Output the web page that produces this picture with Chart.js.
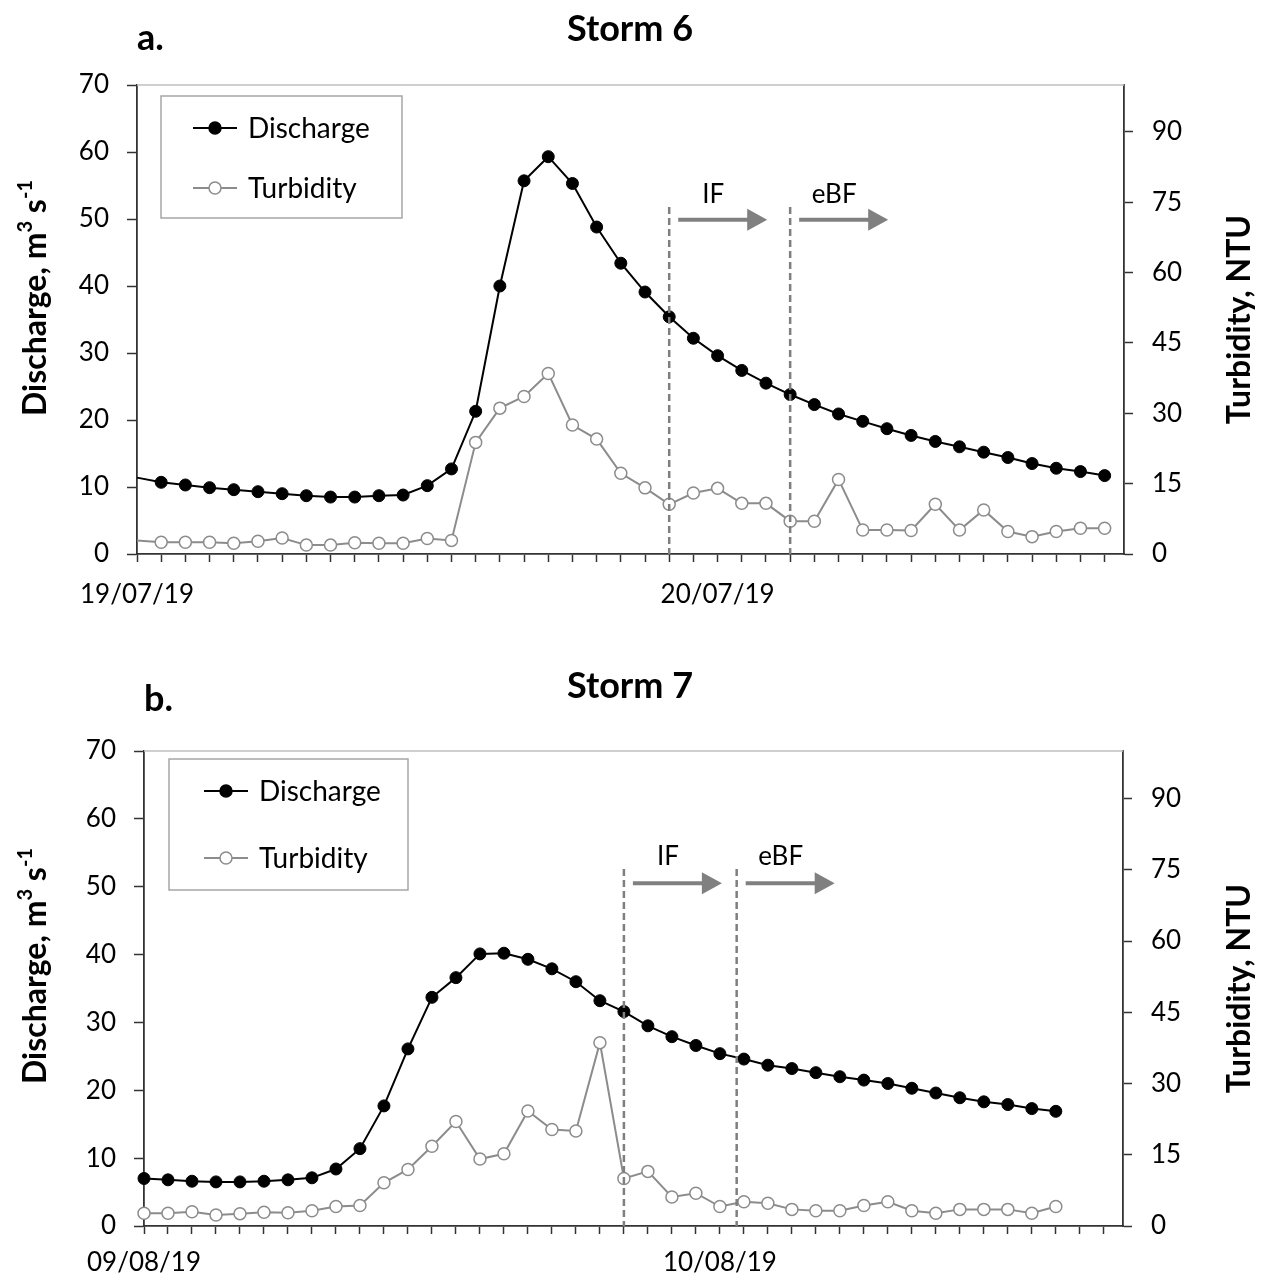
<!DOCTYPE html>
<html>
<head>
<meta charset="utf-8">
<script src="https://cdn.jsdelivr.net/npm/chart.js@4.4.1/dist/chart.umd.min.js"></script>
<style>
    body { margin: 0; background: #fff; }
    canvas { display: block; }
</style>
</head>
<body>
<canvas id="stormSixChart" width="1262" height="639"></canvas>
<canvas id="stormSevenChart" width="1262" height="639"></canvas>
<script>
// Storm 6 - hourly readings from 19/07/19 00:00
const stormSixHours = [0, 1, 2, 3, 4, 5, 6, 7, 8, 9, 10, 11, 12, 13, 14, 15, 16, 17, 18, 19, 20,
    21, 22, 23, 24, 25, 26, 27, 28, 29, 30, 31, 32, 33, 34, 35, 36, 37, 38, 39, 40];
const stormSixDischarge = [11.4, 10.7, 10.3, 9.9, 9.6, 9.3, 9.0, 8.7, 8.5, 8.5, 8.7, 8.8, 10.2, 12.7,
    21.3, 40.0, 55.7, 59.3, 55.3, 48.8, 43.4, 39.1, 35.4, 32.2, 29.6, 27.4, 25.5, 23.8, 22.3, 20.9,
    19.8, 18.7, 17.7, 16.8, 16.0, 15.2, 14.4, 13.5, 12.8, 12.3, 11.7];
const stormSixTurbidity = [2.9, 2.5, 2.5, 2.5, 2.3, 2.7, 3.4, 1.9, 1.9, 2.4, 2.3, 2.3, 3.3, 2.9,
    23.8, 31.1, 33.6, 38.5, 27.5, 24.5, 17.2, 14.1, 10.6, 13.0, 14.0, 10.8, 10.8, 7.0, 7.0, 15.9,
    5.1, 5.1, 5.0, 10.6, 5.1, 9.4, 4.8, 3.7, 4.8, 5.5, 5.5];
const stormSixDates = ['19/07/19', '20/07/19'];
const stormSixPhaseHours = [22, 27];

// Storm 7 - hourly readings from 09/08/19 00:00
const stormSevenHours = [0, 1, 2, 3, 4, 5, 6, 7, 8, 9, 10, 11, 12, 13, 14, 15, 16, 17, 18, 19, 20,
    21, 22, 23, 24, 25, 26, 27, 28, 29, 30, 31, 32, 33, 34, 35, 36, 37, 38];
const stormSevenDischarge = [7.0, 6.8, 6.6, 6.5, 6.5, 6.6, 6.8, 7.1, 8.4, 11.4, 17.7, 26.1, 33.7,
    36.6, 40.1, 40.2, 39.3, 37.9, 36.0, 33.2, 31.6, 29.5, 27.9, 26.6, 25.4, 24.6, 23.7, 23.2, 22.6,
    22.0, 21.5, 21.0, 20.3, 19.6, 18.9, 18.3, 17.9, 17.3, 16.9];
const stormSevenTurbidity = [2.7, 2.7, 3.0, 2.3, 2.6, 2.9, 2.8, 3.2, 4.1, 4.3, 9.1, 11.9, 16.8,
    22.0, 14.1, 15.2, 24.2, 20.3, 20.0, 38.6, 10.0, 11.5, 6.1, 6.9, 4.1, 5.1, 4.8, 3.5, 3.2,
    3.2, 4.3, 5.1, 3.2, 2.7, 3.5, 3.5, 3.5, 2.7, 4.1];
const stormSevenDates = ['09/08/19', '10/08/19'];
const stormSevenPhaseHours = [20, 24.7];

const dateTickHours = [0, 24];
const phaseLabels = ['IF', 'eBF'];
const seriesNames = ['Discharge', 'Turbidity'];

const FONT = 'Lato, "Open Sans", sans-serif';
const AXIS_COLOR = '#333';
const GREY = '#8c8c8c';

Chart.defaults.font.family = FONT;
Chart.defaults.color = '#000';

// Draws titles, legend box, phase lines and arrows
const stormExtras = {
    id: 'stormExtras',
    afterDatasetsDraw(chart, args, o) {
        const { ctx, scales: { x, y } } = chart;
        ctx.save();
        o.phaseHours.forEach((hour, i) => {
            const px = x.getPixelForValue(hour);
            // dashed phase boundary
            ctx.strokeStyle = '#7f7f7f';
            ctx.lineWidth = 2.5;
            ctx.setLineDash([7, 4]);
            ctx.beginPath();
            ctx.moveTo(px, y.getPixelForValue(o.phaseTop));
            ctx.lineTo(px, y.bottom);
            ctx.stroke();
            ctx.setLineDash([]);

            // arrow
            const ay = y.getPixelForValue(o.arrowAt);
            const x0 = px + 9, x1 = px + 98;
            ctx.fillStyle = '#808080';
            ctx.strokeStyle = '#808080';
            ctx.lineWidth = 4;
            ctx.beginPath();
            ctx.moveTo(x0, ay);
            ctx.lineTo(x1 - 18, ay);
            ctx.stroke();
            ctx.beginPath();
            ctx.moveTo(x1, ay);
            ctx.lineTo(x1 - 20, ay - 11);
            ctx.lineTo(x1 - 20, ay + 11);
            ctx.closePath();
            ctx.fill();

            // label
            ctx.fillStyle = '#000';
            ctx.font = '26px ' + FONT;
            ctx.textAlign = 'center';
            ctx.textBaseline = 'alphabetic';
            ctx.fillText(phaseLabels[i], px + 44, y.getPixelForValue(o.labelAt));
        });
        ctx.restore();
    },
    afterDraw(chart, args, o) {
        const { ctx, chartArea: area } = chart;
        ctx.save();

        // light top border of the plot
        ctx.strokeStyle = '#bfbfbf';
        ctx.lineWidth = 1.5;
        ctx.beginPath();
        ctx.moveTo(area.left, area.top);
        ctx.lineTo(area.right, area.top);
        ctx.stroke();

        ctx.fillStyle = '#000';
        ctx.textBaseline = 'alphabetic';

        // panel letter and title
        ctx.font = 'bold 36px ' + FONT;
        ctx.textAlign = 'left';
        ctx.fillText(o.panel, area.left, o.panelY);
        ctx.font = 'bold 36px ' + FONT;
        ctx.textAlign = 'center';
        ctx.fillText(o.title, 630, o.titleY);

        // left axis title with superscripts
        const big = 'bold 32px ' + FONT;
        const small = 'bold 20px ' + FONT;
        const parts = [['Discharge, m', big, 0], ['3', small, -14], [' s', big, 0], ['-1', small, -14]];
        let total = 0;
        parts.forEach(p => { ctx.font = p[1]; total += ctx.measureText(p[0]).width; });
        ctx.save();
        ctx.translate(46, o.leftTitleY);
        ctx.rotate(-Math.PI / 2);
        ctx.textAlign = 'left';
        let cx = -total / 2;
        parts.forEach(p => {
            ctx.font = p[1];
            ctx.fillText(p[0], cx, p[2]);
            cx += ctx.measureText(p[0]).width;
        });
        ctx.restore();

        // right axis title
        ctx.save();
        ctx.translate(1250, (area.top + area.bottom) / 2);
        ctx.rotate(-Math.PI / 2);
        ctx.font = big;
        ctx.textAlign = 'center';
        ctx.fillText('Turbidity, NTU', 0, 0);
        ctx.restore();

        // legend box
        const lg = o.legend;
        ctx.strokeStyle = '#a6a6a6';
        ctx.lineWidth = 1.5;
        ctx.strokeRect(lg.left, lg.top, lg.width, lg.height);
        chart.data.datasets.forEach((ds, i) => {
            const ly = lg.rows[i];
            ctx.strokeStyle = ds.borderColor;
            ctx.lineWidth = ds.borderWidth;
            ctx.beginPath();
            ctx.moveTo(lg.lineX, ly);
            ctx.lineTo(lg.lineX + 44, ly);
            ctx.stroke();
            ctx.beginPath();
            ctx.arc(lg.lineX + 22, ly, 6, 0, Math.PI * 2);
            ctx.fillStyle = ds.pointBackgroundColor;
            ctx.fill();
            ctx.strokeStyle = ds.pointBorderColor;
            ctx.lineWidth = 1.5;
            ctx.stroke();
            ctx.fillStyle = '#000';
            ctx.font = '28px ' + FONT;
            ctx.textAlign = 'left';
            ctx.textBaseline = 'middle';
            ctx.fillText(ds.label, lg.lineX + 55, ly + 1);
            ctx.textBaseline = 'alphabetic';
        });

        ctx.restore();
    }
};

function makeStormChart(canvasId, s) {
    const discharge = s.hours.map((h, i) => ({ x: h, y: s.discharge[i] }));
    const turbidity = s.hours.map((h, i) => ({ x: h, y: s.turbidity[i] }));
    const tickFont = { size: 26, family: FONT };

    return new Chart(document.getElementById(canvasId), {
        type: 'line',
        data: {
            datasets: [{
                label: seriesNames[0],
                data: discharge,
                yAxisID: 'y',
                borderColor: '#000',
                borderWidth: 2,
                pointBackgroundColor: '#000',
                pointBorderColor: '#000',
                pointBorderWidth: 1,
                pointRadius: ctx => (s.hideFirstMarker && ctx.dataIndex === 0) ? 0 : 6,
                tension: 0,
                clip: false
            }, {
                label: seriesNames[1],
                data: turbidity,
                yAxisID: 'y2',
                borderColor: GREY,
                borderWidth: 2,
                pointBackgroundColor: '#fff',
                pointBorderColor: GREY,
                pointBorderWidth: 1.5,
                pointRadius: ctx => (s.hideFirstMarker && ctx.dataIndex === 0) ? 0 : 6,
                tension: 0,
                clip: false
            }]
        },
        options: {
            responsive: false,
            animation: false,
            layout: {
                padding: { left: 0, right: 0, top: s.plotTop, bottom: 639 - s.plotBottom - 60 }
            },
            plugins: {
                legend: { display: false },
                tooltip: { enabled: false },
                stormExtras: s.extras
            },
            scales: {
                x: {
                    type: 'linear',
                    min: 0,
                    max: 40.8,
                    afterFit: scale => { scale.height = 60; },
                    border: { color: AXIS_COLOR, width: 1.8 },
                    grid: { drawOnChartArea: false, tickLength: 8, tickColor: AXIS_COLOR, tickWidth: 1.5 },
                    ticks: {
                        stepSize: 1,
                        autoSkip: false,
                        maxRotation: 0,
                        includeBounds: false,
                        maxTicksLimit: 100,
                        padding: s.dateGap,
                        font: tickFont,
                        color: '#000',
                        callback: value => {
                            const i = dateTickHours.indexOf(value);
                            return i >= 0 ? s.dates[i] : '';
                        }
                    }
                },
                y: {
                    position: 'left',
                    min: 0,
                    max: 70,
                    afterFit: scale => { scale.width = s.plotLeft; },
                    border: { color: AXIS_COLOR, width: 1.8 },
                    grid: { drawOnChartArea: false, tickLength: 10, tickColor: AXIS_COLOR, tickWidth: 1.5 },
                    ticks: { stepSize: 10, padding: 18, font: tickFont, color: '#000' }
                },
                y2: {
                    position: 'right',
                    min: 0,
                    max: 100,
                    afterFit: scale => { scale.width = 1262 - s.plotRight; },
                    border: { color: AXIS_COLOR, width: 1.8 },
                    grid: { drawOnChartArea: false, tickLength: 9, tickColor: AXIS_COLOR, tickWidth: 1.5 },
                    ticks: { stepSize: 15, includeBounds: false, padding: 19, font: tickFont, color: '#000' }
                }
            }
        },
        plugins: [stormExtras]
    });
}

makeStormChart('stormSixChart', {
    hours: stormSixHours,
    discharge: stormSixDischarge,
    turbidity: stormSixTurbidity,
    dates: stormSixDates,
    hideFirstMarker: true,
    plotLeft: 137, plotRight: 1124, plotTop: 85, plotBottom: 554,
    dateGap: 17,
    extras: {
        panel: 'a.', panelY: 50, title: 'Storm 6', titleY: 41, leftTitleY: 298,
        phaseHours: stormSixPhaseHours, phaseTop: 51.8, arrowAt: 49.9, labelAt: 52.4,
        legend: { left: 161, top: 96, width: 241, height: 122, rows: [128, 188], lineX: 193 }
    }
});

makeStormChart('stormSevenChart', {
    hours: stormSevenHours,
    discharge: stormSevenDischarge,
    turbidity: stormSevenTurbidity,
    dates: stormSevenDates,
    hideFirstMarker: false,
    plotLeft: 144, plotRight: 1123, plotTop: 112, plotBottom: 587,
    dateGap: 13,
    extras: {
        panel: 'b.', panelY: 72, title: 'Storm 7', titleY: 59, leftTitleY: 327,
        phaseHours: stormSevenPhaseHours, phaseTop: 52.6, arrowAt: 50.5, labelAt: 53.2,
        legend: { left: 169, top: 120, width: 239, height: 131, rows: [152, 219], lineX: 204 }
    }
});
</script>
</body>
</html>
